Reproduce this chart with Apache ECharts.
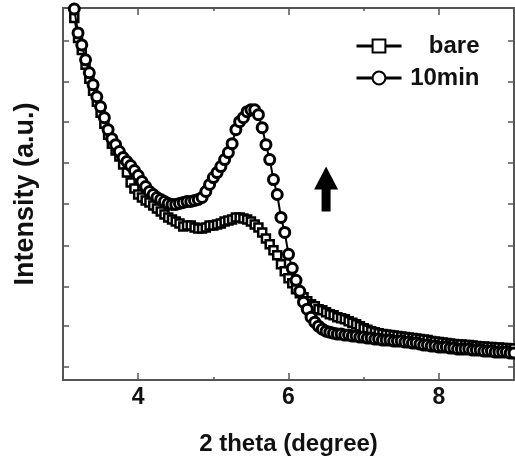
<!DOCTYPE html>
<html>
<head>
<meta charset="utf-8">
<script src="https://cdn.jsdelivr.net/npm/echarts@6/dist/echarts.min.js"></script>
<style>html,body{margin:0;padding:0;background:#fff}#c{width:515px;height:461px}</style>
</head>
<body>
<div id="c"></div>
<script>
// 2 theta (degree)
const twoTheta = [3.10,3.15,3.20,3.25,3.30,3.35,3.40,3.45,3.50,3.55,3.60,3.65,3.70,3.75,3.80,3.85,3.90,3.95,4.00,
4.05,4.10,4.15,4.20,4.25,4.30,4.35,4.40,4.45,4.50,4.55,4.60,4.65,4.70,4.75,4.80,4.85,4.90,4.95,5.00,
5.05,5.10,5.15,5.20,5.25,5.30,5.35,5.40,5.45,5.50,5.55,5.60,5.65,5.70,5.75,5.80,5.85,5.90,5.95,6.00,
6.05,6.10,6.15,6.20,6.25,6.30,6.35,6.40,6.45,6.50,6.55,6.60,6.65,6.70,6.75,6.80,6.85,6.90,6.95,7.00,
7.05,7.10,7.15,7.20,7.25,7.30,7.35,7.40,7.45,7.50,7.55,7.60,7.65,7.70,7.75,7.80,7.85,7.90,7.95,8.00,
8.05,8.10,8.15,8.20,8.25,8.30,8.35,8.40,8.45,8.50,8.55,8.60,8.65,8.70,8.75,8.80,8.85,8.90,8.95,9.00];

// intensity (a.u.), bare sample
const bare = [379,363,343,331,316,302,290,279,268,257,246,237,230,224,216,208,198,192,186,
183,180,178,175,172,169,166,163,161,159,157,154,155,155,153,152,152,153,155,155,
156,157,159,160,161,163,163,162,161,159,156,153,148,142,136,130,125,116,109,102,
97,91,87,83,79,76,74,71,70,68,66,65,63,62,61,59,57.5,56,54,52,
50.5,49,48,47,46,45.5,45,44.5,44,43.5,43,42.5,42,41.5,41,40.5,40,39,38.5,38,
37.5,37,36.5,36,35.5,35.5,35,35,34.5,34,33.5,33.5,33,33,32.5,32.5,32,32,31.5,31.5];

// intensity (a.u.), 10 min sample
const tenMin = [386,372,348,336,321,308,296,284,274,263,251,242,236,229,223,219,215,210,205,
199,194,189,186,183,181,179,177,176,176,177,178,179,179,180,181,183,189,196,203,
208,214,221,228,237,251,259,263,269,271,271,266,253,236,221,201,186,163,148,126,
112,100,89,78,71,63,58,54,51,49,48,47,46,46,45,45,44,44,43,43,
42,42,41,41,40,40,40,39,39,39,38,38,37,37,36,35,35,34,34,33,
33,33,32,32,31,31,31,31,30,30,30,29,29,29,28,28,28,28,27,27];

const seriesNames = ['bare', '10min'];
const xMajorTicks = [4, 6, 8];
const xMinorTicks = [5, 7];
const yTicks = [13, 54, 94, 135, 177, 218, 259, 299, 340];
const xName = '2 theta (degree)';
const yName = 'Intensity (a.u.)';
const arrowAt = [6.5, 191.5];

const FONT = 'Liberation Sans';
const AX = '#555';

function pairs(xs, ys) { return xs.map((x, i) => [x, ys[i]]); }

const baseX = {
  type: 'value', min: 3, max: 9, splitLine: { show: false },
  axisLine: { show: true, onZero: false, lineStyle: { color: AX, width: 2 } }
};
const baseY = {
  type: 'value', min: 0, max: 373, splitLine: { show: false },
  axisLine: { show: true, onZero: false, lineStyle: { color: AX, width: 2 } },
  axisLabel: { show: false },
  axisTick: { show: true, inside: true, length: 6, customValues: yTicks, lineStyle: { color: AX, width: 1.5 } }
};

const chart = echarts.init(document.getElementById('c'), null, { renderer: 'canvas' });
chart.setOption({
  animation: false,
  backgroundColor: '#fff',
  grid: { left: 63, right: 1, top: 8, bottom: 80, containLabel: false },
  xAxis: [
    Object.assign({}, baseX, {
      position: 'bottom',
      axisTick: { show: true, inside: true, length: 7, customValues: xMajorTicks, lineStyle: { color: AX, width: 1.5 } },
      axisLabel: { show: true, customValues: xMajorTicks, margin: 6, fontSize: 23, fontWeight: 'bold', fontFamily: FONT, color: '#111' },
      name: xName, nameLocation: 'middle', nameGap: 52,
      nameTextStyle: { fontSize: 24, fontWeight: 'bold', fontFamily: FONT, color: '#111' }
    }),
    Object.assign({}, baseX, {
      position: 'bottom',
      axisTick: { show: true, inside: true, length: 3, customValues: xMinorTicks, lineStyle: { color: AX, width: 1.5 } },
      axisLabel: { show: false }
    }),
    Object.assign({}, baseX, {
      position: 'top',
      axisTick: { show: true, inside: true, length: 7, customValues: xMajorTicks, lineStyle: { color: AX, width: 1.5 } },
      axisLabel: { show: false }
    }),
    Object.assign({}, baseX, {
      position: 'top',
      axisTick: { show: true, inside: true, length: 3, customValues: xMinorTicks, lineStyle: { color: AX, width: 1.5 } },
      axisLabel: { show: false }
    })
  ],
  yAxis: [
    Object.assign({}, baseY, {
      position: 'left',
      name: yName, nameLocation: 'middle', nameGap: 24, nameRotate: 90,
      nameTextStyle: { fontSize: 27, fontWeight: 'bold', fontFamily: FONT, color: '#111' }
    }),
    Object.assign({}, baseY, { position: 'right' })
  ],
  legend: {
    orient: 'vertical', left: 355, top: 34, padding: 0,
    itemWidth: 45, itemHeight: 16, itemGap: 8,
    data: seriesNames,
    lineStyle: { width: 3, color: '#000' },
    formatter: n => '{r|' + n + '}',
    textStyle: {
      fontSize: 24, fontWeight: 'bold', fontFamily: FONT, color: '#111',
      rich: { r: { width: 73, align: 'right', fontSize: 24, fontWeight: 'bold', fontFamily: FONT, color: '#111', lineHeight: 24 } }
    }
  },
  series: [
    {
      name: seriesNames[0], type: 'line', xAxisIndex: 0, yAxisIndex: 0,
      data: pairs(twoTheta, bare),
      symbol: 'rect', symbolSize: 8, showAllSymbol: true,
      lineStyle: { color: '#000', width: 2 },
      itemStyle: { color: '#fff', borderColor: '#000', borderWidth: 2.5 },
      z: 2
    },
    {
      name: seriesNames[1], type: 'line', xAxisIndex: 0, yAxisIndex: 0,
      data: pairs(twoTheta, tenMin),
      symbol: 'circle', symbolSize: 10, showAllSymbol: true,
      lineStyle: { color: '#000', width: 2 },
      itemStyle: { color: '#fff', borderColor: '#000', borderWidth: 3 },
      z: 3,
      markPoint: {
        silent: true,
        symbol: 'path://M12,0 L24,23 L16.5,23 L16.5,45 L7.5,45 L7.5,23 L0,23 Z',
        symbolSize: [24, 45],
        symbolOffset: [0, 0],
        label: { show: false },
        itemStyle: { color: '#000', borderWidth: 0 },
        data: [{ coord: arrowAt }]
      }
    }
  ]
});
</script>
</body>
</html>
